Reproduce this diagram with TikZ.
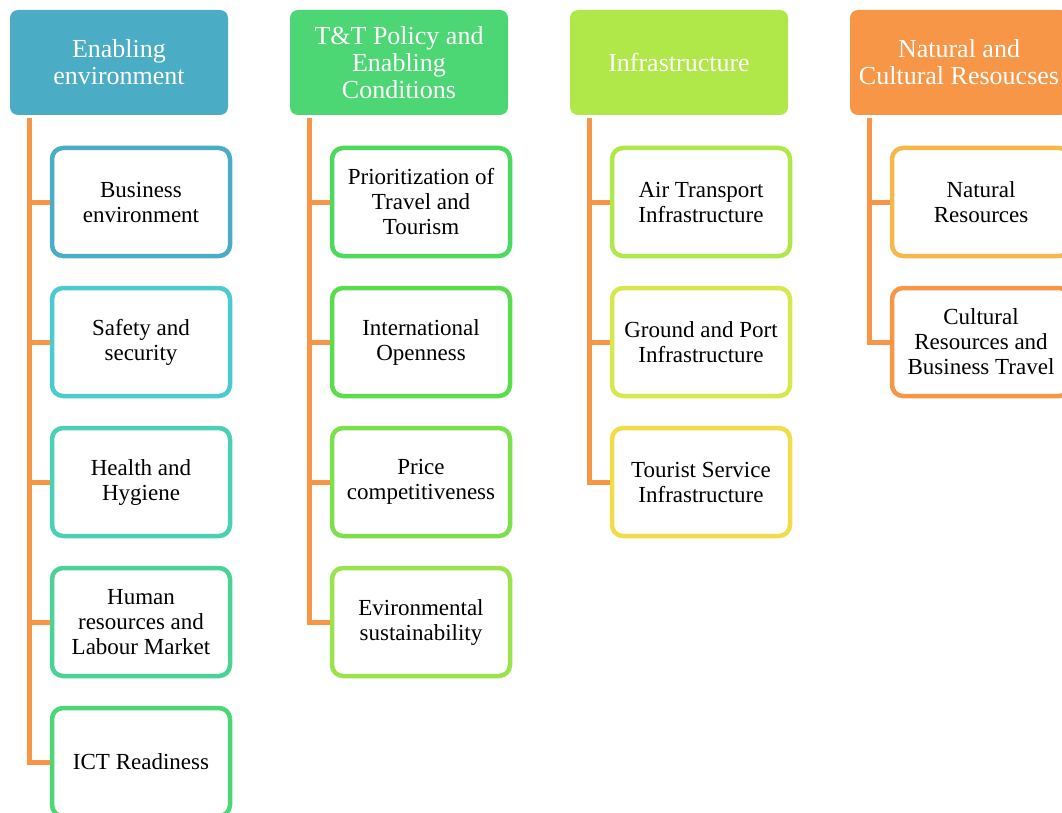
\documentclass[tikz,border=0pt]{standalone}
\usepackage{fontspec}
\setmainfont{Liberation Serif}
\usetikzlibrary{positioning}

\definecolor{colA}{HTML}{4BACC6}
\definecolor{colB}{HTML}{4CD674}
\definecolor{colC}{HTML}{B0E84A}
\definecolor{colD}{HTML}{F79646}
\definecolor{trunkcol}{HTML}{F79646}

\tikzset{
  header/.style={rounded corners=8pt, fill=#1, text=white, minimum width=218pt,
    minimum height=105pt, align=center, font=\fontsize{26}{27}\selectfont},
  item/.style={rounded corners=11pt, draw=#1, line width=4.5pt, fill=white,
    minimum width=178pt, minimum height=108pt, align=center,
    font=\fontsize{23}{25}\selectfont},
  trunk/.style={draw=trunkcol, line width=5pt}
}

\begin{document}
\begin{tikzpicture}[x=1pt,y=-1pt]
  \useasboundingbox (0,0) rectangle (1062,813);
  % column headers
  \node[header=colA] (h1) at (119,62.5) {Enabling\\environment};
  \node[header=colB] (h2) at (399,62.5) {T\&T Policy and\\Enabling\\Conditions};
  \node[header=colC] (h3) at (679,62.5) {Infrastructure};
  \node[header=colD] (h4) at (959,62.5) {Natural and\\Cultural Resoucses};
  % first column
  \foreach [count=\i] \lab/\col in {Business\\environment/4BACC6,
      Safety and\\security/4BCBD0, Health and\\Hygiene/4BCFB5,
      Human\\resources and\\Labour Market/4BD397, ICT Readiness/4CD674} {
    \definecolor{cur}{HTML}{\col}
    \node[item=cur] (a\i) at (141,62+140*\i) {\lab};
    \draw[trunk] ([xshift=20pt,yshift=-3pt]h1.south west) |- (a\i.west);
  }
  % second column
  \foreach [count=\i] \lab/\col in {Prioritization of\\Travel and\\Tourism/4DD95E,
      International\\Openness/5ADC4C, Price\\competitiveness/7BE04C,
      Evironmental\\sustainability/9BE34C} {
    \definecolor{cur}{HTML}{\col}
    \node[item=cur] (b\i) at (421,62+140*\i) {\lab};
    \draw[trunk] ([xshift=20pt,yshift=-3pt]h2.south west) |- (b\i.west);
  }
  % third column
  \foreach [count=\i] \lab/\col in {Air Transport\\Infrastructure/B0E84A,
      Ground and Port\\Infrastructure/D6E84C, Tourist Service\\Infrastructure/F2DC4A} {
    \definecolor{cur}{HTML}{\col}
    \node[item=cur] (c\i) at (701,62+140*\i) {\lab};
    \draw[trunk] ([xshift=20pt,yshift=-3pt]h3.south west) |- (c\i.west);
  }
  % fourth column
  \foreach [count=\i] \lab/\col in {Natural\\Resources/F5B84A,
      Cultural\\Resources and\\Business Travel/F79646} {
    \definecolor{cur}{HTML}{\col}
    \node[item=cur] (d\i) at (981,62+140*\i) {\lab};
    \draw[trunk] ([xshift=20pt,yshift=-3pt]h4.south west) |- (d\i.west);
  }
\end{tikzpicture}
\end{document}
